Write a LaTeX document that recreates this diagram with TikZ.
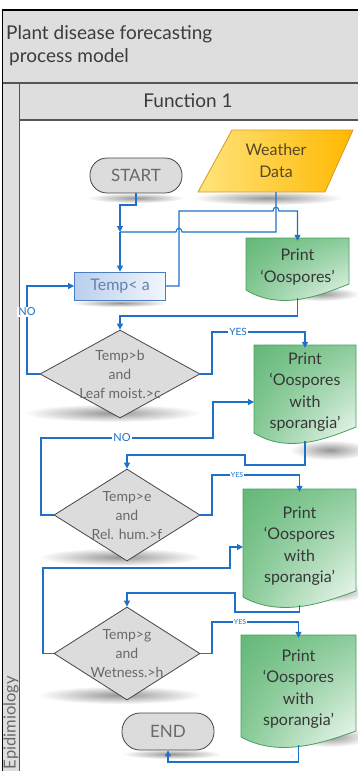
\documentclass[tikz,border=0pt]{standalone}
\usepackage{fontspec}
\setmainfont{Lato}
\usetikzlibrary{arrows.meta,shapes.geometric,calc,shadings}
\definecolor{lblue}{RGB}{30,112,200}
\definecolor{bandgray}{RGB}{222,222,222}
\definecolor{framegray}{RGB}{85,85,85}
\definecolor{dfill}{RGB}{220,220,220}
\definecolor{dline}{RGB}{70,70,70}
\definecolor{dtext}{RGB}{105,105,105}
\definecolor{titlecol}{RGB}{60,60,60}
\definecolor{gtop}{RGB}{100,184,120}
\definecolor{gmid}{RGB}{140,204,155}
\definecolor{gline}{RGB}{70,160,90}
\definecolor{ptextcol}{RGB}{55,55,55}
\definecolor{wyl}{RGB}{255,228,125}
\definecolor{wyr}{RGB}{255,184,0}
\definecolor{wline}{RGB}{210,155,40}
\definecolor{wtext}{RGB}{85,72,40}
\definecolor{tbl}{RGB}{185,207,238}
\definecolor{tbr}{RGB}{242,246,252}
\definecolor{tbline}{RGB}{75,125,195}
\definecolor{tbtext}{RGB}{100,130,175}
\definecolor{shad}{RGB}{150,150,150}

\newcommand{\docnode}[6]{%
  \shade[upper left=gtop, upper right=gmid, lower left=gmid, lower right=white, draw=gline, line width=0.8pt]
    (#2,#4) -- (#3,#4) -- (#3,{#5-6})
    .. controls ({#2+0.75*(#3-#2)},{#5+4}) and ({#2+0.35*(#3-#2)},{#5+22}) .. (#2,#5) -- cycle;
  \node[ptxt, minimum width={(#3-#2)*1pt}, minimum height={(#5-#4)*1pt}] (#1) at ({(#2+#3)/2},{(#4+#5)/2+3}) {#6};
  \coordinate (#1b) at ({(#2+#3)/2},{#5+8});
}

\begin{document}
\begin{tikzpicture}[x=1pt,y=-1pt,
  conn/.style={draw=lblue, line width=1.1pt},
  arr/.style={conn, -{Triangle[length=6pt,width=6pt]}},
  lab/.style={fill=white, inner sep=1pt, text=lblue, font=\fontsize{11}{11}\selectfont},
  term/.style={rectangle, rounded corners=17pt, draw=dline, fill=dfill, line width=0.8pt,
     minimum width=92pt, minimum height=35pt, font=\fontsize{17}{17}\selectfont, text=dtext},
  dia/.style={diamond, draw=dline, fill=dfill, line width=0.8pt, inner sep=0pt},
  dtxt/.style={align=center, font=\fontsize{14}{19}\selectfont, text=dtext, inner sep=0pt},
  ptxt/.style={align=center, font=\fontsize{16}{21.5}\selectfont, text=ptextcol, inner sep=0pt},
  shadowell/.style={inner color=shad, outer color=white}
]
\useasboundingbox (0,0) rectangle (358,771);
\fill[white] (0,0) rectangle (358,771);

% frame
\fill[bandgray] (2,10) rectangle (358,120);
\fill[bandgray] (2,83) rectangle (19,771);
\draw[framegray, line width=1.3pt] (2,83) -- (358,83);
\draw[framegray, line width=1.3pt] (19,120) -- (358,120);
\draw[framegray, line width=0.9pt] (19,83) -- (19,771);
\draw[black, line width=0.9pt] (2,771) -- (2,10);
\draw[black, line width=2pt] (1.5,10) -- (358,10);

\node[anchor=north west, align=left, font=\fontsize{19}{23}\selectfont, text=titlecol, inner sep=0pt] (title) at (6,25)
  {Plant disease forecasting\\\hspace{3pt}process model};
\node[font=\fontsize{19}{19}\selectfont, text=titlecol] (func) at (188,101) {Function 1};
\node[rotate=90, anchor=east, font=\fontsize{16.5}{16.5}\selectfont, text=dtext, inner sep=0pt] (lane) at (11,676) {Epidimiology};

% shadows
\shade[shadowell] (136,198) ellipse[x radius=48, y radius=5];
\shade[shadowell] (268,198) ellipse[x radius=75, y radius=7];
\shade[shadowell] (120,303) ellipse[x radius=48, y radius=4];
\shade[shadowell] (320,294) ellipse[x radius=40, y radius=7];
\shade[shadowell] (112,413) ellipse[x radius=88, y radius=9];
\shade[shadowell] (330,450) ellipse[x radius=40, y radius=10];
\shade[shadowell] (120,557) ellipse[x radius=82, y radius=9];
\shade[shadowell] (330,592) ellipse[x radius=40, y radius=10];
\shade[shadowell] (120,695) ellipse[x radius=82, y radius=9];
\shade[shadowell] (330,737) ellipse[x radius=40, y radius=10];
\shade[shadowell] (172,754) ellipse[x radius=50, y radius=5];

% nodes
\node[term] (start) at (136,175.5) {START};
\shade[left color=wyl, right color=wyr, draw=wline, line width=0.8pt]
  (198,192) -- (232,130) -- (353,130) -- (325,192) -- cycle;
\node[align=center, font=\fontsize{16}{22}\selectfont, text=wtext, inner sep=0pt] (wd) at (276,161) {Weather\\Data};
\coordinate (wdb) at (276,192);

\docnode{p0}{246}{349}{238}{290}{Print\\‘Oospores’}

\node[rectangle, left color=tbl, right color=tbr, draw=tbline, line width=0.8pt,
  minimum width=91pt, minimum height=28pt, font=\fontsize{16}{16}\selectfont, text=tbtext] (ta) at (120,286) {Temp< a};

\node[dia, minimum width=160pt, minimum height=88pt] (d1) at (120,374) {};
\node[dtxt] (d1t) at (120,374) {Temp>b\\and\\Leaf moist.>c};

\docnode{p1}{254}{356}{345}{433}{Print\\‘Oospores\\with\\sporangia’}

\node[dia, minimum width=146pt, minimum height=92pt] (d2) at (127,515) {};
\node[dtxt] (d2t) at (127,516) {Temp>e\\and\\Rel. hum.>f};

\docnode{p2}{243}{356}{489}{597}{Print\\‘Oospores\\with\\sporangia’}

\node[dia, minimum width=146pt, minimum height=93pt] (d3) at (127,653.5) {};
\node[dtxt] (d3t) at (127,654) {Temp>g\\and\\Wetness.>h};

\docnode{p3}{241}{356}{635}{737}{Print\\‘Oospores\\with\\sporangia’}

\node[term, minimum height=37pt, rounded corners=18pt] (end) at (168,731.5) {END};

% connectors
\coordinate (m0) at (120,232);
\draw[arr] (start.south) |- (120,205) -- (m0);
\draw[arr] (m0) -- (ta.north);
\draw[conn] (wdb) -- (276,232) -- (182,232) .. controls (182,227) and (176,227) .. (176,232) -- (m0);
\draw[arr] (ta.east) -- (179,286) -- (179,211) -- (273,211) .. controls (273,206) and (279,206) .. (279,211) -- (297.5,211) -- (p0.north);
\draw[arr] (p0b) -- (297.5,316) -| (d1.north);
\draw[arr] (d1.west) -- (27,374) |- (ta.west);
\node[lab] (no1) at (27,312) {NO};
\draw[arr] (d1.east) -- (212,374) |- (p1.north |- 0,332) -- (p1.north);
\node[lab, font=\fontsize{10}{10}\selectfont] (yes1) at (238,332) {YES};

\coordinate (p1in) at (254,402);
\draw[arr] (d2.west) -- (41,515) |- (213,438) |- (p1in);
\node[lab] (no2) at (122,438) {NO};
\draw[arr] (p1b) -- (305,465) -| (245,455) -| (d2.north);

\draw[arr] (d2.east) -- (212,515) |- (p2.north |- 0,475) -- (p2.north);
\node[lab, font=\fontsize{7}{7}\selectfont, inner sep=0.5pt] (yes2) at (237,475) {YES};

\coordinate (p2in) at (243,547);
\draw[arr] (d3.west) -- (43,653.5) |- (230,568) |- (p2in);
\draw[arr] (p2b) -- (299.5,612) -| (235,593) -| (d3.north);

\draw[arr] (d3.east) -- (212,653.5) |- (p3.north |- 0,622) -- (p3.north);
\node[lab, font=\fontsize{7}{7}\selectfont, inner sep=0.5pt] (yes3) at (240,622) {YES};

\draw[arr] (p3b) -- (298.5,762) -| (end.south);
\end{tikzpicture}
\end{document}
